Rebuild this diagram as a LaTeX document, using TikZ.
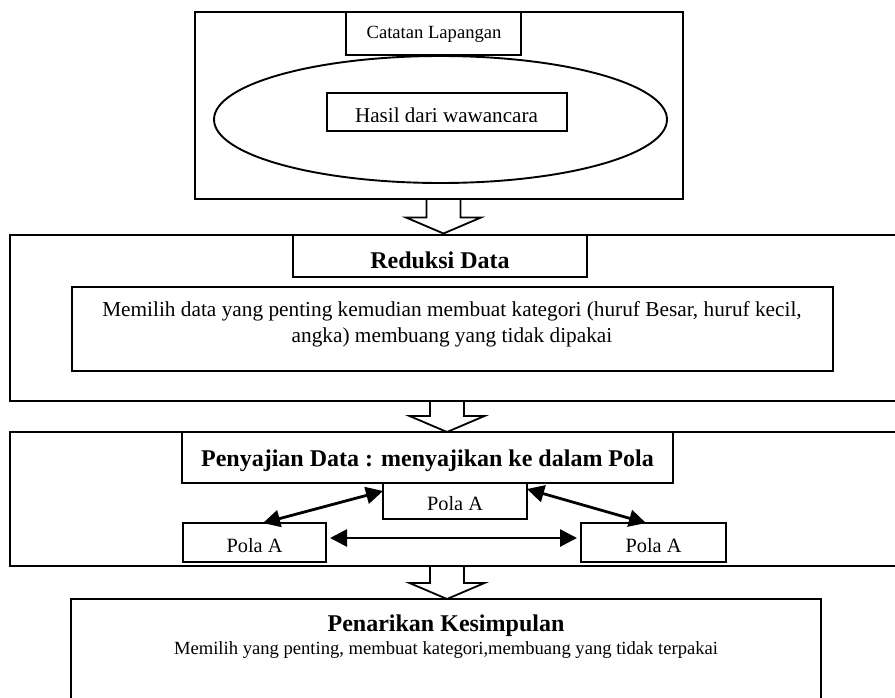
\documentclass[tikz,border=0pt]{standalone}
\usepackage{fontspec}
\setmainfont{Liberation Serif}
\usetikzlibrary{arrows.meta,shapes.geometric,calc}
\tikzset{
  outerbox/.style={draw, line width=2.8pt, inner sep=0pt, outer sep=0pt},
  innerbox/.style={draw, line width=1.2pt, inner sep=0pt, outer sep=0pt},
  txt/.style={anchor=base, inner sep=0pt, outer sep=0pt},
  blockarr/.style={draw, line width=1.8pt, line join=miter},
  dbl/.style={line width=2.8pt, {Triangle[length=17pt,width=17pt]}-{Triangle[length=17pt,width=17pt]}},
}
\newcommand{\rbox}[6]{\node[#1, minimum width={#4-#2}, minimum height={#5-#3}] (#6) at ({(#2+#4)/2},{(#3+#5)/2}) {};}
\newcommand{\blockarrow}[2]{\draw[blockarr] let \p1=#1, \p2=#2 in
  (\x1-17pt,\y1) -- (\x1-17pt,\y2+16pt) -- (\x1-37.5pt,\y2+16pt) -- (\x1,\y2)
  -- (\x1+37.5pt,\y2+16pt) -- (\x1+17pt,\y2+16pt) -- (\x1+17pt,\y1);}
\begin{document}
\begin{tikzpicture}[x=1pt,y=-1pt]
\useasboundingbox (0,0) rectangle (895,698);
\fill[white] (0,0) rectangle (895,698);
\clip (0,0) rectangle (895,698);

% top block
\rbox{outerbox}{195}{12}{683}{199}{top}
\node[draw, ellipse, line width=1.9pt, inner sep=0pt, minimum width=453, minimum height=127] (ell) at (440.5,119.5) {};
\rbox{innerbox}{346}{12}{521}{55}{catbox}
\node[txt, font=\fontsize{18.6}{22}\selectfont] (cattxt) at (434,38.5) {Catatan Lapangan};
\rbox{innerbox}{327}{93}{567}{131}{hasbox}
\begin{scope}
  \clip (300,90) rectangle (600,121.8);
  \node[txt, font=\fontsize{21.1}{25}\selectfont] (hastxt) at (446.5,122.3) {Hasil dari wawancara};
\end{scope}

% Reduksi
\rbox{outerbox}{10}{235}{910}{401}{red}
\rbox{innerbox}{293}{235}{587}{277}{redtitle}
\node[txt, font=\fontsize{24}{28}\bfseries\selectfont] (redtxt) at (440,268) {Reduksi Data};
\rbox{innerbox}{72}{287}{833}{371}{desc}
\node[txt, font=\fontsize{21.3}{25}\selectfont] (desc1) at (452,316) {Memilih data yang penting kemudian membuat kategori (huruf Besar, huruf kecil,};
\node[txt, font=\fontsize{21.3}{25}\selectfont] (desc2) at (452,342) {angka) membuang yang tidak dipakai};

% Penyajian
\rbox{outerbox}{10}{432}{910}{566}{pen}
\rbox{innerbox}{182}{432}{673}{483}{pentitle}
\node[txt, font=\fontsize{24}{28}\bfseries\selectfont] (pentxt) at (427.5,466) {Penyajian Data : menyajikan ke dalam Pola};
\rbox{innerbox}{383}{483}{527}{519}{ptop}
\begin{scope}
  \clip (380,485) rectangle (530,509.8);
  \node[txt, font=\fontsize{20.3}{24}\selectfont] (ptoptxt) at (455,510.5) {Pola A};
\end{scope}
\rbox{innerbox}{183}{523}{326}{562}{pleft}
\node[txt, font=\fontsize{20.3}{24}\selectfont] (plefttxt) at (254.5,552) {Pola A};
\rbox{innerbox}{581}{523}{726}{562}{pright}
\node[txt, font=\fontsize{20.3}{24}\selectfont] (prighttxt) at (653.5,552) {Pola A};

\draw[dbl] ($(ptop.north west)+(0,8)$) -- ($(pleft.north west)+(80,0)$);
\draw[dbl] ($(ptop.north east)+(0,6)$) -- ($(pright.north west)+(65,0)$);
\draw[dbl] ($(pleft.north east)+(4,15)$) -- ($(pright.north west)+(-4,15)$);

% Penarikan
\rbox{innerbox}{71}{599}{821}{730}{kes}
\node[txt, font=\fontsize{24}{28}\bfseries\selectfont] (kestxt) at (446,631.5) {Penarikan Kesimpulan};
\node[txt, font=\fontsize{18.6}{22}\selectfont] (kessub) at (446,654) {Memilih yang penting, membuat kategori,membuang yang tidak terpakai};

% block arrows
\blockarrow{($(top.south)+(4.5,0)$)}{($(red.north)+(3.5,-1.5)$)}
\blockarrow{($(red.south)+(-13,0)$)}{($(pen.north)+(-13,0)$)}
\blockarrow{($(pen.south)+(-13,0)$)}{($(kes.north)+(1,0)$)}
\end{tikzpicture}
\end{document}
